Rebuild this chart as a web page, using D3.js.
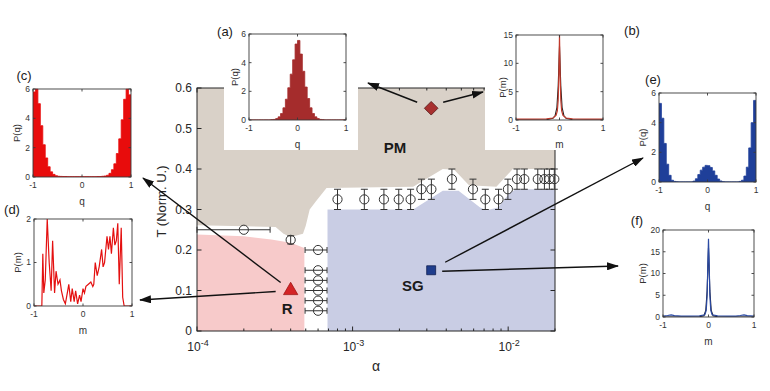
<!DOCTYPE html>
<html><head><meta charset="utf-8">
<script src="https://cdn.jsdelivr.net/npm/d3@7"></script>
<style>
body{margin:0;background:#fff;}
svg{display:block;font-family:"Liberation Sans",Arial,Helvetica,sans-serif;}
</style></head><body>
<svg id="chart" width="770" height="391"></svg>
<script>
// ---------------- DATA ----------------
const alphaDomain = [1e-4, 2e-2];
const tDomain = [0, 0.6];
const xMajorTicks = [1e-4, 1e-3, 1e-2];
const xMajorExp = ["-4", "-3", "-2"];
const yTicks = [0, 0.1, 0.2, 0.3, 0.4, 0.5, 0.6];
const yTickLabels = ["0", "0.1", "0.2", "0.3", "0.4", "0.5", "0.6"];

// phase regions (alpha, T) polygons
const pmAlpha = [1e-4, 3.2e-4, 3.6e-4, 4.0e-4, 4.8e-4, 5.0e-4, 5.3e-4, 5.8e-4, 6.8e-4, 2.45e-3, 3.8e-3, 4.5e-3, 5.6e-3, 8.4e-3, 1.07e-2, 2e-2, 2e-2, 1e-4];
const pmT     = [0.261, 0.257, 0.24, 0.232, 0.24, 0.26, 0.3, 0.32, 0.353, 0.356, 0.4, 0.398, 0.36, 0.356, 0.4, 0.4, 0.6, 0.6];
const rAlpha  = [1e-4, 1e-4, 2e-4, 3e-4, 4e-4, 4.9e-4, 4.9e-4];
const rT      = [0, 0.238, 0.234, 0.226, 0.218, 0.205, 0];
const sgAlpha = [6.9e-4, 6.9e-4, 2.45e-3, 3.8e-3, 4.8e-3, 6.6e-3, 7.3e-3, 8.6e-3, 1.02e-2, 1.12e-2, 2e-2, 2e-2];
const sgT     = [0, 0.3, 0.3, 0.346, 0.346, 0.305, 0.298, 0.305, 0.34, 0.35, 0.35, 0];

// transition points with error bars
const ptAlpha = [2e-4, 4e-4, 6e-4, 6e-4, 6e-4, 6e-4, 6e-4, 6e-4,
  8e-4, 1.19e-3, 1.59e-3, 1.98e-3, 2.36e-3, 2.77e-3, 3.21e-3, 4.35e-3, 5.94e-3, 7.13e-3, 8.67e-3, 9.96e-3, 1.14e-2, 1.27e-2, 1.55e-2, 1.71e-2, 1.84e-2, 1.98e-2];
const ptT = [0.25, 0.225, 0.2, 0.15, 0.125, 0.1, 0.075, 0.05,
  0.325, 0.325, 0.325, 0.325, 0.325, 0.35, 0.35, 0.375, 0.35, 0.325, 0.325, 0.35, 0.375, 0.375, 0.375, 0.375, 0.375, 0.375];
const ptTErr = [0, 0.01, 0, 0, 0, 0, 0, 0,
  0.025, 0.025, 0.025, 0.025, 0.025, 0.025, 0.025, 0.025, 0.025, 0.025, 0.025, 0.025, 0.025, 0.025, 0.025, 0.025, 0.025, 0.025];
const ptAlphaLo = [1e-4, null, 4.95e-4, 4.95e-4, 4.95e-4, 4.95e-4, 4.95e-4, 4.95e-4,
  null, null, null, null, null, null, null, null, null, null, null, null, null, null, null, null, null, null];
const ptAlphaHi = [2.95e-4, null, 6.85e-4, 6.85e-4, 6.85e-4, 6.85e-4, 6.85e-4, 6.85e-4,
  null, null, null, null, null, null, null, null, null, null, null, null, null, null, null, null, null, null];

// representative state markers
const pmMarker = [3.2e-3, 0.55];
const rMarker  = [4e-4, 0.1];
const sgMarker = [3.2e-3, 0.15];
const phaseNames = ["PM", "R", "SG"];
const phaseLabelAlpha = [1.87e-3, 3.8e-4, 2.44e-3];
const phaseLabelT = [0.452, 0.056, 0.113];

// inset histograms: left bin edges (width 0.05)
const qEdges = [-1, -0.95, -0.9, -0.85, -0.8, -0.75, -0.7, -0.65, -0.6, -0.55, -0.5, -0.45, -0.4, -0.35, -0.3, -0.25, -0.2, -0.15, -0.1, -0.05,
  0, 0.05, 0.1, 0.15, 0.2, 0.25, 0.3, 0.35, 0.4, 0.45, 0.5, 0.55, 0.6, 0.65, 0.7, 0.75, 0.8, 0.85, 0.9, 0.95];
const binWidth = 0.05;
const histA = [0, 0, 0, 0, 0, 0, 0, 0, 0, 0.02, 0.04, 0.1, 0.22, 0.45, 0.85, 1.45, 2.25, 3.2, 4.2, 5.3,
  5.55, 4.6, 3.4, 2.3, 1.5, 0.85, 0.45, 0.22, 0.1, 0.04, 0.02, 0, 0, 0, 0, 0, 0, 0, 0, 0];
const histC = [5.8, 6.0, 5.0, 3.5, 2.2, 1.3, 0.7, 0.35, 0.18, 0.09, 0.05, 0.04, 0.03, 0.03, 0.02, 0.02, 0.02, 0.02, 0.02, 0.02,
  0.02, 0.02, 0.02, 0.02, 0.02, 0.02, 0.03, 0.03, 0.05, 0.07, 0.12, 0.25, 0.5, 0.9, 1.6, 2.6, 3.9, 5.3, 6.0, 5.6];
const histE = [5.3, 4.3, 2.6, 1.2, 0.45, 0.12, 0.04, 0.01, 0, 0, 0, 0, 0, 0, 0.06, 0.22, 0.5, 0.8, 1.0, 1.12,
  1.1, 0.98, 0.75, 0.45, 0.2, 0.07, 0.02, 0, 0, 0, 0, 0, 0, 0.04, 0.12, 0.4, 1.0, 2.3, 4.0, 5.5];

// inset line data
const mB    = [-1, -0.6, -0.3, -0.15, -0.08, -0.05, -0.03, -0.015, 0, 0.015, 0.03, 0.05, 0.08, 0.15, 0.3, 0.6, 1];
const pB    = [0.15, 0.15, 0.2, 0.35, 0.8, 1.6, 3.5, 8, 15, 8, 3.5, 1.6, 0.8, 0.35, 0.2, 0.15, 0.15];
const mBfit = [-1, -0.3, -0.15, -0.1, -0.06, -0.03, 0, 0.03, 0.06, 0.1, 0.15, 0.3, 1];
const pBfit = [0, 0.05, 0.3, 0.8, 2.2, 6, 13, 6, 2.2, 0.8, 0.3, 0.05, 0];
const mD = [-1, -0.9, -0.84, -0.82, -0.8, -0.77, -0.73, -0.69, -0.65, -0.62, -0.58, -0.55, -0.51, -0.47, -0.44, -0.4, -0.36, -0.32, -0.29, -0.25,
  -0.22, -0.18, -0.15, -0.11, -0.07, -0.04, 0, 0.03, 0.06, 0.11, 0.16, 0.2, 0.22, 0.25, 0.29, 0.33, 0.38, 0.41, 0.44, 0.49,
  0.52, 0.55, 0.58, 0.62, 0.65, 0.68, 0.71, 0.74, 0.78, 0.81, 0.84, 0.9, 1];
const pD = [0, 0, 0, 1.2, 0.3, 0.6, 2.0, 1.0, 0.35, 1.5, 0.3, 0.8, 0.5, 0.6, 0.35, 0.15, 0.05, 0.3, 0.5, 0.1,
  0.4, 0.1, 0.35, 0.05, 0.25, 0.1, 0.4, 0.3, 0.45, 0.5, 0.55, 0.45, 0.5, 1.0, 0.7, 0.9, 1.3, 0.9, 1.0, 1.6,
  1.3, 1.6, 1.2, 1.8, 1.4, 1.5, 1.9, 0.5, 1.8, 0.2, 0, 0, 0];
const mF    = [-1, -0.9, -0.82, -0.75, -0.6, -0.4, -0.2, -0.08, -0.05, -0.03, -0.015, 0, 0.015, 0.03, 0.05, 0.08, 0.2, 0.4, 0.6, 0.7, 0.78, 0.85, 1];
const pF    = [0.2, 0.35, 0.5, 0.3, 0.2, 0.2, 0.25, 0.5, 1.5, 5, 12, 18, 12, 5, 1.5, 0.5, 0.25, 0.2, 0.2, 0.35, 0.5, 0.3, 0.2];
const mFfit = [-1, -0.2, -0.1, -0.06, -0.03, 0, 0.03, 0.06, 0.1, 0.2, 1];
const pFfit = [0, 0.05, 0.3, 1.5, 6, 16, 6, 1.5, 0.3, 0.05, 0];

const insetXTicks = [-1, 0, 1];
const yTicksA = [0, 2, 4, 6], yTicksB = [0, 5, 10, 15], yTicksC = [0, 2, 4, 6];
const yTicksD = [0, 1, 2], yTicksE = [0, 2, 4, 6], yTicksF = [0, 5, 10, 15, 20];

// ---------------- DRAWING ----------------
const svg = d3.select("#chart");
const AX = "#262626";
const plot = {left: 197, right: 555, top: 88, bottom: 331};
const x = d3.scaleLog().domain(alphaDomain).range([plot.left, plot.right]);
const y = d3.scaleLinear().domain(tDomain).range([plot.bottom, plot.top]);

const poly = (A, T) => d3.line().x(d => x(d[0])).y(d => y(d[1]))(d3.zip(A, T)) + "Z";
svg.append("path").attr("d", poly(pmAlpha, pmT)).attr("fill", "#d9d1c8");
svg.append("path").attr("d", poly(rAlpha, rT)).attr("fill", "#f7caca");
svg.append("path").attr("d", poly(sgAlpha, sgT)).attr("fill", "#c9cde4");

// frame + ticks
const fr = svg.append("g").attr("stroke", AX).attr("fill", "none").attr("stroke-width", 1);
fr.append("rect").attr("x", plot.left).attr("y", plot.top)
  .attr("width", plot.right - plot.left).attr("height", plot.bottom - plot.top);
const isMajor = t => Math.abs(Math.log10(t) - Math.round(Math.log10(t))) < 1e-9;
x.ticks().forEach(t => {
  const L = isMajor(t) ? 4.5 : 2.5;
  fr.append("line").attr("x1", x(t)).attr("x2", x(t)).attr("y1", plot.bottom).attr("y2", plot.bottom - L);
  fr.append("line").attr("x1", x(t)).attr("x2", x(t)).attr("y1", plot.top).attr("y2", plot.top + L);
});
yTicks.forEach(t => {
  fr.append("line").attr("x1", plot.left).attr("x2", plot.left + 4.5).attr("y1", y(t)).attr("y2", y(t));
  fr.append("line").attr("x1", plot.right).attr("x2", plot.right - 4.5).attr("y1", y(t)).attr("y2", y(t));
});
// tick labels
svg.append("g").selectAll("text").data(yTicks).join("text")
  .attr("x", plot.left - 5).attr("y", d => y(d)).attr("dy", "0.35em")
  .attr("text-anchor", "end").attr("font-size", 12).attr("fill", AX)
  .text((d, i) => yTickLabels[i]);
const xl = svg.append("g").selectAll("text").data(xMajorTicks).join("text")
  .attr("x", d => x(d) + 1).attr("y", plot.bottom + 20)
  .attr("text-anchor", "middle").attr("font-size", 12).attr("fill", AX);
xl.append("tspan").text("10");
xl.append("tspan").attr("dy", -5).attr("font-size", 9).text((d, i) => xMajorExp[i]);
svg.append("text").attr("x", (plot.left + plot.right) / 2).attr("y", plot.bottom + 40)
  .attr("text-anchor", "middle").attr("font-size", 14).attr("fill", AX).text("α");
svg.append("text").attr("transform", `translate(${plot.left - 31},${(plot.top + plot.bottom) / 2 - 8}) rotate(-90)`)
  .attr("text-anchor", "middle").attr("font-size", 13).attr("fill", AX).text("T (Norm. U.)");

// error bars + circles
const pts = ptAlpha.map((a, i) => ({a, t: ptT[i], te: ptTErr[i], lo: ptAlphaLo[i], hi: ptAlphaHi[i]}));
const eb = svg.append("g").attr("stroke", "#333").attr("stroke-width", 1).attr("fill", "none");
pts.forEach(p => {
  const cx = x(p.a), cy = y(p.t);
  if (p.te > 0) {
    const y1 = y(p.t + p.te), y2 = y(p.t - p.te);
    eb.append("line").attr("x1", cx).attr("x2", cx).attr("y1", y1).attr("y2", y2);
    eb.append("line").attr("x1", cx - 3.5).attr("x2", cx + 3.5).attr("y1", y1).attr("y2", y1);
    eb.append("line").attr("x1", cx - 3.5).attr("x2", cx + 3.5).attr("y1", y2).attr("y2", y2);
  }
  if (p.lo !== null) {
    const x1 = x(p.lo), x2 = x(p.hi);
    eb.append("line").attr("x1", x1).attr("x2", x2).attr("y1", cy).attr("y2", cy);
    eb.append("line").attr("x1", x1).attr("x2", x1).attr("y1", cy - 3).attr("y2", cy + 3);
    eb.append("line").attr("x1", x2).attr("x2", x2).attr("y1", cy - 3).attr("y2", cy + 3);
  }
  eb.append("circle").attr("cx", cx).attr("cy", cy).attr("r", 4.6).attr("stroke", "#333").attr("fill", "none");
});

// phase labels
svg.append("g").selectAll("text").data(phaseNames).join("text")
  .attr("x", (d, i) => x(phaseLabelAlpha[i])).attr("y", (d, i) => y(phaseLabelT[i]))
  .attr("dy", "0.36em").attr("text-anchor", "middle")
  .attr("font-size", 15).attr("font-weight", "bold").attr("fill", "#1a1a1a").text(d => d);

// markers
svg.append("path").attr("d", d3.symbol(d3.symbolSquare, 92)())
  .attr("transform", `translate(${x(pmMarker[0])},${y(pmMarker[1])}) rotate(45)`)
  .attr("fill", "#a8302f").attr("stroke", "#5a1a1a").attr("stroke-width", 0.8);
svg.append("path").attr("d", d3.symbol(d3.symbolTriangle, 88)())
  .attr("transform", `translate(${x(rMarker[0])},${y(rMarker[1])})`)
  .attr("fill", "#d42426").attr("stroke", "#a01515").attr("stroke-width", 0.8);
svg.append("path").attr("d", d3.symbol(d3.symbolSquare, 80)())
  .attr("transform", `translate(${x(sgMarker[0])},${y(sgMarker[1])})`)
  .attr("fill", "#1f3d8c").attr("stroke", "#102050").attr("stroke-width", 0.8);

// white inset backgrounds over main plot
svg.append("rect").attr("x", 224).attr("y", 0).attr("width", 134).attr("height", 150).attr("fill", "#fff");
svg.append("rect").attr("x", 485).attr("y", 0).attr("width", 285).attr("height", 150).attr("fill", "#fff");

// ---------- insets ----------
let clipId = 0;
function drawInset(cfg) {
  const g = svg.append("g");
  const sx = d3.scaleLinear().domain([-1, 1]).range([cfg.x, cfg.x + cfg.w]);
  const sy = d3.scaleLinear().domain([0, cfg.yTicks[cfg.yTicks.length - 1]]).range([cfg.y + cfg.h, cfg.y]);
  const id = "clip" + (clipId++);
  g.append("clipPath").attr("id", id).append("rect")
    .attr("x", cfg.x).attr("y", cfg.y - 0.5).attr("width", cfg.w).attr("height", cfg.h + 0.5);
  const dg = g.append("g").attr("clip-path", `url(#${id})`);
  cfg.series.forEach(s => {
    if (s.type === "hist") {
      const pts = s.edges.map((e, i) => [e, s.values[i]]);
      pts.push([s.edges[s.edges.length - 1] + binWidth, s.values[s.values.length - 1]]);
      dg.append("path").attr("d", d3.area().curve(d3.curveStepAfter)
          .x(d => sx(d[0])).y0(sy(0)).y1(d => sy(d[1]))(pts))
        .attr("fill", s.color).attr("stroke", s.color).attr("stroke-width", 0.8);
    } else {
      dg.append("path").attr("d", d3.line().x(d => sx(d[0])).y(d => sy(d[1]))(d3.zip(s.xs, s.ys)))
        .attr("fill", "none").attr("stroke", s.color).attr("stroke-width", s.width || 1.2);
    }
  });
  const ax = g.append("g").attr("stroke", "#3a3a3a").attr("fill", "none").attr("stroke-width", 0.9);
  ax.append("rect").attr("x", cfg.x).attr("y", cfg.y).attr("width", cfg.w).attr("height", cfg.h);
  insetXTicks.forEach(t => {
    ax.append("line").attr("x1", sx(t)).attr("x2", sx(t)).attr("y1", cfg.y + cfg.h).attr("y2", cfg.y + cfg.h - 2.5);
    ax.append("line").attr("x1", sx(t)).attr("x2", sx(t)).attr("y1", cfg.y).attr("y2", cfg.y + 2.5);
  });
  cfg.yTicks.forEach(t => {
    ax.append("line").attr("x1", cfg.x).attr("x2", cfg.x + 2.5).attr("y1", sy(t)).attr("y2", sy(t));
    ax.append("line").attr("x1", cfg.x + cfg.w).attr("x2", cfg.x + cfg.w - 2.5).attr("y1", sy(t)).attr("y2", sy(t));
  });
  g.append("g").selectAll("text").data(cfg.yTicks).join("text")
    .attr("x", cfg.x - 3).attr("y", d => sy(d)).attr("dy", "0.35em").attr("text-anchor", "end")
    .attr("font-size", 8.5).attr("fill", "#333").text(d => d);
  g.append("g").selectAll("text").data(insetXTicks).join("text")
    .attr("x", d => sx(d)).attr("y", cfg.y + cfg.h + 11).attr("text-anchor", "middle")
    .attr("font-size", 8.5).attr("fill", "#333").text(d => d);
  g.append("text").attr("x", sx(0)).attr("y", cfg.y + cfg.h + 28).attr("text-anchor", "middle")
    .attr("font-size", 10).attr("fill", "#333").text(cfg.xLabel);
  g.append("text").attr("transform", `translate(${cfg.x - cfg.yl},${cfg.y + cfg.h / 2 + (cfg.ylShift || 0)}) rotate(-90)`)
    .attr("text-anchor", "middle").attr("font-size", 9.5).attr("fill", "#333").text(cfg.yLabel);
  g.append("text").attr("x", cfg.lx).attr("y", cfg.ly).attr("dy", "0.35em").attr("text-anchor", "middle")
    .attr("font-size", 13).attr("fill", "#1a1a1a").text(cfg.label);
  return cfg;
}

const insetA = drawInset({x: 249, y: 34, w: 97, h: 86, yTicks: yTicksA, xLabel: "q", yLabel: "P(q)", label: "(a)", lx: 225, ly: 31, yl: 11,
  series: [{type: "hist", edges: qEdges, values: histA, color: "#a52c2c"}]});
const insetB = drawInset({x: 516, y: 35, w: 87, h: 85, yTicks: yTicksB, xLabel: "m", yLabel: "P(m)", label: "(b)", lx: 632, ly: 30, yl: 10, ylShift: 10,
  series: [{type: "line", xs: mBfit, ys: pBfit, color: "#222", width: 1.1},
           {type: "line", xs: mB, ys: pB, color: "#c0392b", width: 1.2}]});
const insetC = drawInset({x: 33, y: 89, w: 98, h: 88, yTicks: yTicksC, xLabel: "q", yLabel: "P(q)", label: "(c)", lx: 24, ly: 75, yl: 13,
  series: [{type: "hist", edges: qEdges, values: histC, color: "#e80c0c"}]});
const insetD = drawInset({x: 34, y: 219, w: 98, h: 87, yTicks: yTicksD, xLabel: "m", yLabel: "P(m)", label: "(d)", lx: 12, ly: 209, yl: 13,
  series: [{type: "line", xs: mD, ys: pD, color: "#e41010", width: 1.2}]});
const insetE = drawInset({x: 659, y: 93, w: 97, h: 89, yTicks: yTicksE, xLabel: "q", yLabel: "P(q)", label: "(e)", lx: 653, ly: 79, yl: 13,
  series: [{type: "hist", edges: qEdges, values: histE, color: "#1f3f99"}]});
const insetF = drawInset({x: 663, y: 230, w: 91, h: 87, yTicks: yTicksF, xLabel: "m", yLabel: "P(m)", label: "(f)", lx: 637, ly: 220, yl: 17,
  series: [{type: "line", xs: mFfit, ys: pFfit, color: "#1a1a2a", width: 1.1},
           {type: "line", xs: mF, ys: pF, color: "#2b4aa3", width: 1.2}]});

// ---------- arrows ----------
const defs = svg.append("defs");
defs.append("marker").attr("id", "ah").attr("markerUnits", "userSpaceOnUse")
  .attr("markerWidth", 12).attr("markerHeight", 8).attr("refX", 11).attr("refY", 4).attr("orient", "auto")
  .append("path").attr("d", "M0,0 L12,4 L0,8 Z").attr("fill", "#111");
const arrows = [
  {from: pmMarker, dx: -14, dy: -6, tx: insetA.x + insetA.w + 22, ty: 83},
  {from: pmMarker, dx: 12, dy: -6, tx: insetB.x - 33, ty: 92},
  {from: rMarker, dx: -10, dy: -8, tx: insetC.x + insetC.w + 12, ty: insetC.y + insetC.h + 1},
  {from: rMarker, dx: -15, dy: 1, tx: insetD.x + insetD.w + 8, ty: 300},
  {from: sgMarker, dx: 14, dy: -8, tx: insetE.x - 16, ty: 158},
  {from: sgMarker, dx: 11, dy: 1, tx: insetF.x - 45, ty: 266}
];
svg.append("g").selectAll("line").data(arrows).join("line")
  .attr("x1", d => x(d.from[0]) + d.dx).attr("y1", d => y(d.from[1]) + d.dy)
  .attr("x2", d => d.tx).attr("y2", d => d.ty)
  .attr("stroke", "#111").attr("stroke-width", 1.4).attr("marker-end", "url(#ah)");
</script>
</body></html>
